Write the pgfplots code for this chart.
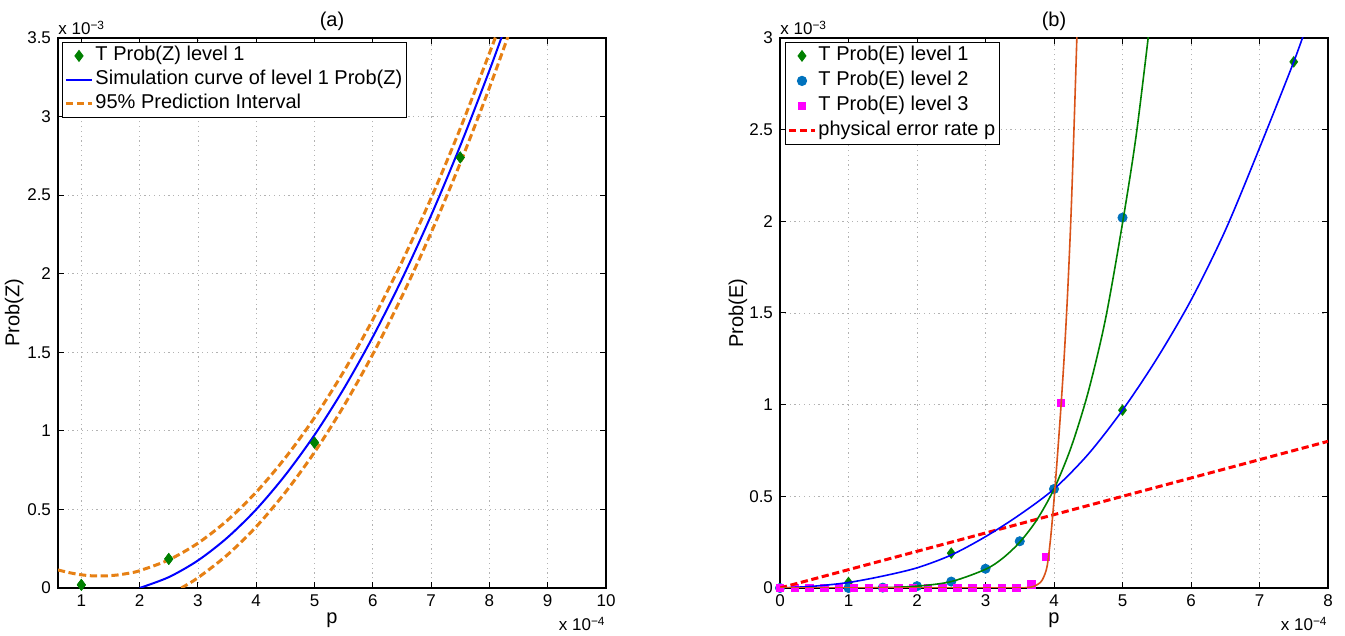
\documentclass[border=0pt]{standalone}
\usepackage{fontspec}
\setmainfont{Liberation Sans}
\usepackage{pgfplots}
\pgfplotsset{compat=1.18}

\definecolor{mgreen}{rgb}{0,0.5,0}
\definecolor{mblue}{rgb}{0,0.447,0.741}
\definecolor{morange}{rgb}{0.85,0.325,0.098}
\definecolor{dorange}{RGB}{230,128,20}
\definecolor{mmag}{rgb}{1,0,1}
\definecolor{mred}{rgb}{1,0,0}

\tikzset{
  dashedline/.style={line width=1.5pt, dash pattern=on 3.6pt off 1.8pt},
  smallfont/.style={font=\fontsize{8.5}{10}\selectfont, inner sep=0pt},
}
\pgfplotsset{
  mstyle/.style={
    scale only axis, width=274pt, height=275pt,
    axis line style={line width=0.6pt},
    every tick/.style={black, line width=0.5pt},
    major tick length=2.8pt,
    tick align=inside,
    grid=major,
    major grid style={gray!60, line width=0.4pt, dash pattern=on 0.6pt off 1.8pt},
    tick label style={font=\fontsize{8.5}{10}\selectfont},
    /pgf/number format/assume math mode=true,
    label style={font=\fontsize{10}{12}\selectfont},
    xlabel style={at={(axis description cs:0.5,0)}, anchor=base, yshift=-18pt, inner sep=0pt},
    legend style={font=\fontsize{10}{12}\selectfont, draw=black, line width=0.5pt,
      anchor=north west, inner xsep=1pt, inner ysep=1pt,
      nodes={inner sep=1pt, text height=7.2pt, text depth=2.2pt, anchor=west}},
    legend cell align=left,
    legend image code/.code={\draw[mark repeat=2,mark phase=2,##1] plot coordinates {(0pt,0pt) (6.5pt,0pt) (13pt,0pt)};},
    clip mode=individual,
  },
}

\begin{document}
\begin{tikzpicture}
\useasboundingbox (0,0) rectangle (672.5pt,318pt);

% (a)
\begin{axis}[mstyle, at={(29pt,24pt)}, anchor=south west,
  xmin=0.6, xmax=10, ymin=0, ymax=3.5,
  xtick={1,2,3,4,5,6,7,8,9,10}, ytick={0,0.5,1,1.5,2,2.5,3,3.5},
  xlabel={p}, ylabel={Prob(Z)},
  ylabel style={at={(axis description cs:-0.08,0.5)}, anchor=center},
  legend style={at={(axis description cs:0.0073,0.9927)}, row sep=0.6pt}]
\addplot[only marks, mark=diamond*, mark size=2.7pt, color=mgreen] coordinates {(1,0.02) (2.5,0.185) (5,0.925) (7.5,2.74)};
\addlegendentry{T Prob(Z) level 1}
\addplot[blue, line width=1pt, smooth] coordinates {
  (2,0) (2.5,0.069) (3,0.175) (3.5,0.319) (4,0.5) (4.5,0.719) (5,0.974) (5.5,1.267)
  (6,1.598) (6.5,1.966) (7,2.371) (7.5,2.814) (8,3.293) (8.3,3.599)};
\addlegendentry{Simulation curve of level 1 Prob(Z)}
\addplot[dorange, dashedline, smooth] coordinates {
  (0.6,0.115) (0.8,0.097) (1.0,0.084) (1.2,0.077) (1.4,0.077) (1.6,0.082) (1.8,0.093)
  (2,0.11) (2.5,0.179) (3,0.285) (3.5,0.429) (4,0.61) (4.5,0.829) (5,1.084) (5.5,1.377)
  (6,1.708) (6.5,2.076) (7,2.481) (7.5,2.924) (8,3.403) (8.2,3.6)};
\addlegendentry{95\% Prediction Interval}
\addplot[dorange, dashedline, smooth, forget plot] coordinates {
  (2.714,0) (3,0.065) (3.5,0.209) (4,0.39) (4.5,0.609) (5,0.864) (5.5,1.157)
  (6,1.488) (6.5,1.856) (7,2.261) (7.5,2.704) (8,3.183) (8.4,3.594)};
\addplot[only marks, mark=diamond*, mark size=2.7pt, color=mgreen, forget plot] coordinates {(1,0.02) (2.5,0.185) (5,0.925) (7.5,2.74)};
\node[smallfont, anchor=base west] at (rel axis cs:0,1) [yshift=1.5pt] {x 10\textsuperscript{−3}};
\node[smallfont, anchor=base east] at (rel axis cs:1,0) [yshift=-21.5pt] {x 10\textsuperscript{−4}};
\node[anchor=base, font=\fontsize{10}{12}\selectfont] at (rel axis cs:0.5,1) [yshift=5.5pt] {(a)};
\end{axis}

% (b)
\begin{axis}[mstyle, at={(390pt,24pt)}, anchor=south west,
  xmin=0, xmax=8, ymin=0, ymax=3,
  xtick={0,1,2,3,4,5,6,7,8}, ytick={0,0.5,1,1.5,2,2.5,3},
  xlabel={p}, ylabel={Prob(E)},
  ylabel style={at={(axis description cs:-0.0766,0.5)}, anchor=center},
  legend style={at={(axis description cs:0.0091,0.9927)}, row sep=1.1pt}]
\addplot[only marks, mark=diamond*, mark size=2.6pt, color=mgreen] coordinates {(1,0.03) (2.5,0.19) (5,0.97) (7.5,2.87)};
\addlegendentry{T Prob(E) level 1}
\addplot[only marks, mark=*, mark size=2.3pt, color=mblue] coordinates {
  (0,0) (1,0) (1.5,0.002) (2,0.01) (2.5,0.035) (3,0.105) (3.5,0.255) (4,0.54) (5,2.02)};
\addlegendentry{T Prob(E) level 2}
\addplot[only marks, mark=square*, mark size=1.85pt, color=mmag] coordinates {
  (0,0) (0.22,0) (0.43,0) (0.65,0) (0.86,0) (1.08,0) (1.3,0) (1.51,0) (1.73,0) (1.94,0)
  (2.16,0) (2.37,0) (2.59,0) (2.81,0) (3.02,0) (3.24,0) (3.45,0) (3.67,0.02) (3.88,0.17) (4.1,1.01)};
\addlegendentry{T Prob(E) level 3}
\addplot[mred, dashedline] coordinates {(0,0) (8,0.8)};
\addlegendentry{physical error rate p}
\addplot[blue, line width=0.8pt, smooth, forget plot] coordinates {
  (0,0) (0.5,0.01) (1,0.03) (1.5,0.065) (2,0.11) (2.5,0.18) (3,0.28) (3.5,0.4) (4,0.54)
  (4.5,0.73) (5,0.97) (5.5,1.25) (6,1.57) (6.5,1.95) (7,2.4) (7.5,2.87) (7.7,3.08)};
\addplot[mgreen, line width=0.8pt, smooth, forget plot] coordinates {
  (0,0) (1,0.0002) (1.5,0.002) (2,0.01) (2.5,0.035) (3,0.102) (3.25,0.162) (3.5,0.25)
  (3.75,0.372) (4,0.54) (4.25,0.768) (4.5,1.07) (4.75,1.464) (5,1.99) (5.2,2.47) (5.4,3.08)};
\addplot[morange, line width=0.8pt, smooth, forget plot] coordinates {
  (0,0) (1,0) (2,0) (3,0) (3.5,0) (3.6,0.002) (3.7,0.008) (3.8,0.03) (3.85,0.06) (3.9,0.12)
  (3.95,0.27) (4.0,0.48) (4.05,0.72) (4.1,0.98) (4.15,1.27) (4.2,1.62) (4.25,2.05) (4.3,2.6) (4.35,3.2)};
\node[smallfont, anchor=base west] at (rel axis cs:0,1) [yshift=1.5pt] {x 10\textsuperscript{−3}};
\node[smallfont, anchor=base east] at (rel axis cs:1,0) [yshift=-21.5pt] {x 10\textsuperscript{−4}};
\node[anchor=base, font=\fontsize{10}{12}\selectfont] at (rel axis cs:0.5,1) [yshift=5.5pt] {(b)};
\end{axis}
\end{tikzpicture}
\end{document}
